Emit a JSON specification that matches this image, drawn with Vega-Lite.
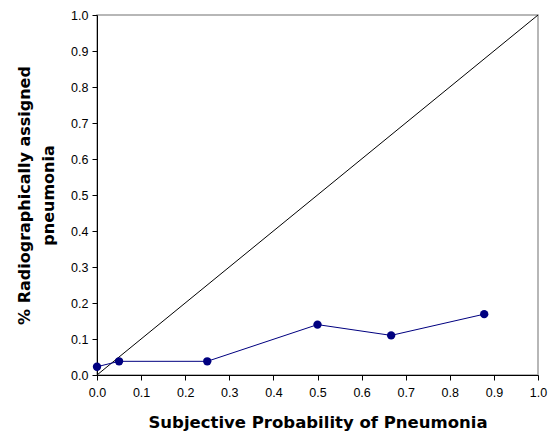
{
  "$schema": "https://vega.github.io/schema/vega-lite/v6.json",
  "autosize": "none",
  "width": 441,
  "height": 360,
  "padding": {"left": 97, "top": 15, "right": 11, "bottom": 64},
  "background": "white",
  "config": {
    "view": {"stroke": "#a0a0a0", "strokeWidth": 1.5},
    "axis": {
      "grid": false,
      "domainColor": "black",
      "tickColor": "black",
      "labelFont": "Liberation Sans",
      "labelFontSize": 12.5,
      "labelColor": "black",
      "labelFlush": false,
      "labelOverlap": false,
      "titleFont": "DejaVu Sans",
      "titleFontSize": 16.5,
      "titleFontWeight": "bold",
      "titleColor": "black",
      "tickSize": 5
    }
  },
  "datasets": {
    "obs": [
      {"p": 0.0, "r": 0.023},
      {"p": 0.05, "r": 0.038},
      {"p": 0.25, "r": 0.038},
      {"p": 0.5, "r": 0.14},
      {"p": 0.667, "r": 0.11},
      {"p": 0.878, "r": 0.169}
    ],
    "diag": [
      {"p": 0, "r": 0},
      {"p": 1, "r": 1}
    ]
  },
  "encoding": {
    "x": {
      "field": "p",
      "type": "quantitative",
      "scale": {"domain": [0, 1], "nice": false},
      "axis": {"title": "Subjective Probability of Pneumonia", "values": [0,0.1,0.2,0.3,0.4,0.5,0.6,0.7,0.8,0.9,1.0], "format": ".1f", "titlePadding": 16, "labelPadding": 6}
    },
    "y": {
      "field": "r",
      "type": "quantitative",
      "scale": {"domain": [0, 1], "nice": false},
      "axis": {"title": ["% Radiographically assigned", "pneumonia"], "values": [0,0.1,0.2,0.3,0.4,0.5,0.6,0.7,0.8,0.9,1.0], "format": ".1f", "titleFontSize": 16, "titleLineHeight": 24, "titlePadding": 14, "labelPadding": 4}
    }
  },
  "layer": [
    {
      "data": {"name": "diag"},
      "mark": {"type": "line", "color": "black", "strokeWidth": 1}
    },
    {
      "data": {"name": "obs"},
      "mark": {"type": "line", "color": "#000080", "strokeWidth": 1, "point": {"filled": true, "size": 70, "color": "#000080", "opacity": 1}}
    }
  ]
}
